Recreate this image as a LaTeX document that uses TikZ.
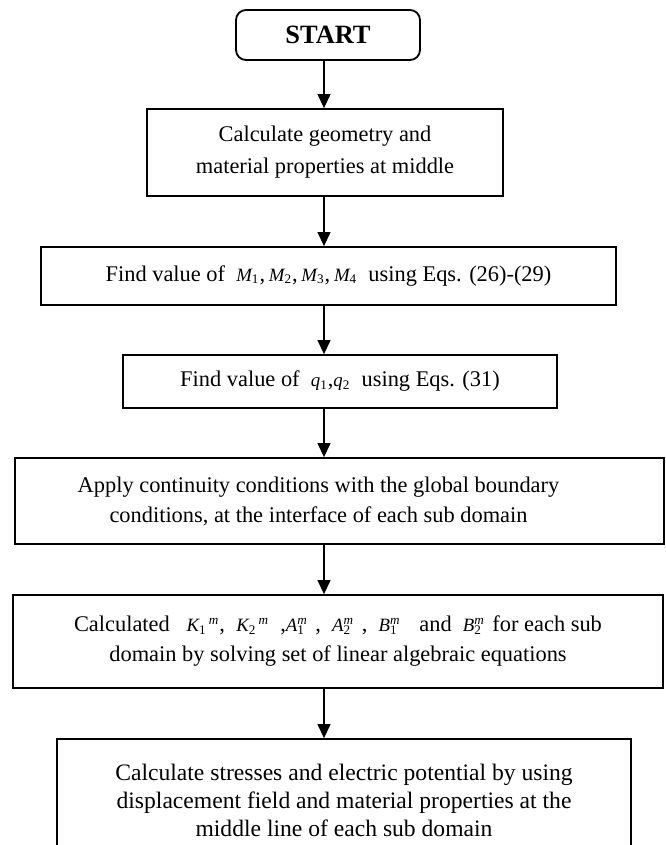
\documentclass[tikz,border=0pt]{standalone}
\usepackage{fontspec}
\setmainfont{Liberation Serif}
\usetikzlibrary{positioning, arrows.meta}
\newcommand{\symsub}[2]{{\fontsize{9.4pt}{10pt}\selectfont\itshape #1\textsubscript{\upshape #2}}}
\newcommand{\symsep}[3]{{\fontsize{9.4pt}{10pt}\selectfont\itshape #1\textsubscript{\upshape #2}\textsuperscript{\,#3}}}
\newcommand{\symst}[3]{{\fontsize{9.4pt}{10pt}\selectfont\itshape #1\rlap{\textsuperscript{#3}}\textsubscript{\upshape #2}\hphantom{\textsuperscript{#3}}}}

\begin{document}
\begin{tikzpicture}[
    x=0.5pt, y=-0.5pt,
    box/.style={draw, line width=0.9pt, align=center, inner sep=0pt, font=\fontsize{11.2pt}{15pt}\selectfont},
    arrow/.style={-{Triangle[length=7pt, width=6.5pt]}, line width=0.6pt}
]
\useasboundingbox (0,0) rectangle (665,845);
\clip (0,0) rectangle (665,845);

% Start
\node[box, rounded corners=5pt, minimum width=92pt, minimum height=25pt, font=\fontsize{13.2pt}{15pt}\selectfont\bfseries] (start) at (328,35) {START};

% Steps
\node[box, minimum width=178pt, minimum height=43.5pt, font=\fontsize{11.2pt}{16pt}\selectfont] (geom) at (325,152.5) {Calculate geometry and\\material properties at middle};
\node[box, minimum width=287.5pt, minimum height=29pt] (mvals) at (328.5,276) {Find value of~ \symsub{M}{1},\,\symsub{M}{2},\,\symsub{M}{3},\,\symsub{M}{4}~ using Eqs. (26)-(29)};
\node[box, minimum width=217pt, minimum height=26.5pt] (qvals) at (340,381.5) {Find value of~ \symsub{q}{1},\symsub{q}{2}~ using Eqs. (31)};
\node[box, minimum width=324.5pt, minimum height=43pt] (cont) at (339.5,501) {Apply continuity conditions with the global boundary\hspace*{21pt}\\conditions, at the interface of each sub domain\hspace*{21pt}};
\node[box, minimum width=325pt, minimum height=46.5pt] (solve) at (338,641.5) {Calculated~~ \symsep{K}{1}{m}, ~\symsep{K}{2}{m}~ ,\symst{A}{1}{m}, ~\symst{A}{2}{m}, ~\symst{B}{1}{m}~ and~ \symst{B}{2}{m}for each sub\\domain by solving set of linear algebraic equations};
\node[box, minimum width=287pt, minimum height=61pt, font=\fontsize{11.8pt}{14pt}\selectfont] (stress) at (344,800) {Calculate stresses and electric potential by using\\displacement field and material properties at the\\middle line of each sub domain};

% Flow arrows
\coordinate (spine) at (324,0);
\draw[arrow] (spine |- start.south) -- (spine |- geom.north);
\draw[arrow] (spine |- geom.south) -- (spine |- mvals.north);
\draw[arrow] (spine |- mvals.south) -- (spine |- qvals.north);
\draw[arrow] (spine |- qvals.south) -- (spine |- cont.north);
\draw[arrow] (spine |- cont.south) -- (spine |- solve.north);
\draw[arrow] (spine |- solve.south) -- (spine |- stress.north);
\end{tikzpicture}
\end{document}
